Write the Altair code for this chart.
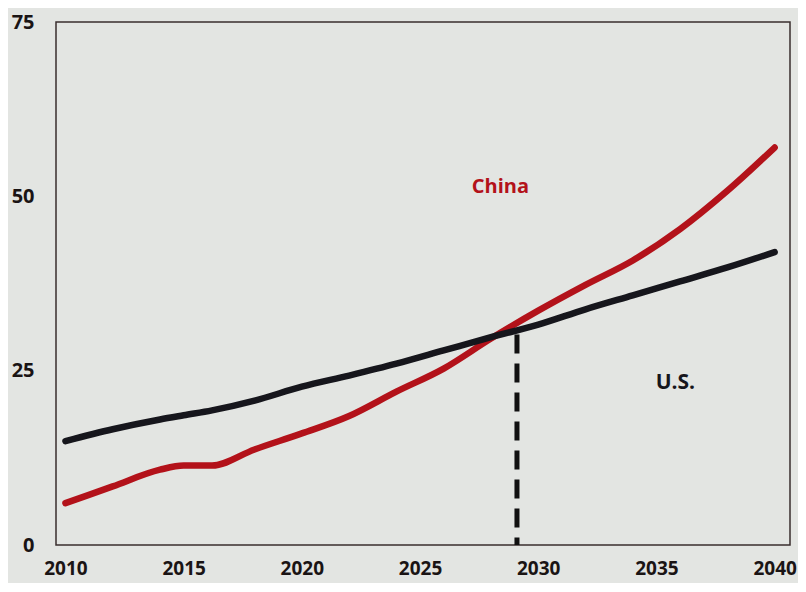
import altair as alt
import pandas as pd

years = [2010, 2012, 2014, 2015, 2016.2, 2018, 2020, 2022, 2024, 2026, 2028, 2030, 2032, 2034, 2036, 2038, 2040]
china = [6.0, 8.4, 10.8, 11.4, 11.4, 13.7, 16.0, 18.5, 22.0, 25.3, 29.6, 33.6, 37.3, 40.8, 45.3, 50.8, 57.0]
us = [14.9, 16.6, 18.0, 18.6, 19.3, 20.7, 22.7, 24.3, 26.0, 27.9, 29.8, 31.6, 33.8, 35.8, 37.8, 39.8, 42.0]

crossover_year = [2029.1]
crossover_value = [30.2]

label_text = ["China", "U.S."]
label_year = [2028.4, 2035.8]
label_value = [51.3, 23.3]
label_color = ["#b3121a", "#16161c"]
label_size = [20, 21]

FONT = "Open Sans"

rows = []
for y, c, u in zip(years, china, us):
    rows.append({"year": y, "value": c, "country": "China"})
    rows.append({"year": y, "value": u, "country": "U.S."})
df = pd.DataFrame(rows)

xscale = alt.Scale(domain=[2009.6, 2040.65], nice=False, zero=False)
yscale = alt.Scale(domain=[0, 75], nice=False)

xaxis = alt.Axis(values=[2010, 2015, 2020, 2025, 2030, 2035, 2040], format="d", title=None,
                 grid=False, ticks=False, tickSize=0, domain=False, labelFont=FONT,
                 labelFontSize=19, labelFontWeight="bold", labelColor="#1a1414",
                 labelPadding=14, labelFlush=False)
yaxis = alt.Axis(values=[0, 25, 50, 75], title=None, grid=False, ticks=False, tickSize=0,
                 domain=False, labelFont=FONT, labelFontSize=20, labelFontWeight="bold",
                 labelColor="#1a1414", labelPadding=22, labelFlush=False)

lines = alt.Chart(df).mark_line(strokeWidth=6.5, interpolate="monotone", strokeCap="round").encode(
    x=alt.X("year:Q", scale=xscale, axis=xaxis),
    y=alt.Y("value:Q", scale=yscale, axis=yaxis),
    color=alt.Color("country:N", scale=alt.Scale(domain=["China", "U.S."], range=["#b3121a", "#16161c"]), legend=None),
    order=alt.Order("year:Q"),
)

rule_df = pd.DataFrame({"year": crossover_year, "top": crossover_value, "bottom": [0]})
rule = alt.Chart(rule_df).mark_rule(strokeWidth=5, strokeDash=[19, 10], color="#111111").encode(
    x=alt.X("year:Q", scale=xscale),
    y=alt.Y("top:Q", scale=yscale),
    y2="bottom:Q",
)

lab_df = pd.DataFrame({"text": label_text, "year": label_year, "value": label_value,
                       "color": label_color, "size": label_size})
labels = alt.Chart(lab_df).mark_text(font=FONT, fontWeight="bold").encode(
    x=alt.X("year:Q", scale=xscale),
    y=alt.Y("value:Q", scale=yscale),
    text="text:N",
    color=alt.Color("color:N", scale=None),
    size=alt.Size("size:Q", scale=None, legend=None),
)

chart = (rule + lines + labels).properties(
    width=734, height=523,
    background="#e3e5e2",
    padding={"left": 48, "top": 14, "right": 8, "bottom": 38},
    autosize=alt.AutoSizeParams(type="none"),
).configure_view(stroke="#3a2e2e", strokeWidth=1.5)

chart.save("out.html", embed_options={"renderer": "svg", "actions": False})
